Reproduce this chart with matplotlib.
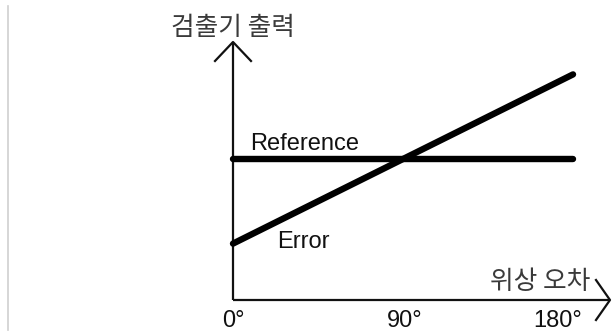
import matplotlib
matplotlib.use("Agg")
import matplotlib.pyplot as plt
from matplotlib.lines import Line2D

# phase error (deg) vs detector output
phase = [0, 180]
reference = [1.0, 1.0]
error = [0.4, 1.6]

tick_pos = [0, 90, 180]
tick_labels = ["0°", "90°", "180°"]

ylabel = "검출기 출력"
xlabel = "위상 오차"

# pixel scale of the drawing (612x333 px at dpi 100)
PX_X = 1.889   # px per degree
PX_Y = 141.0   # px per output unit
X0, Y0 = 233, 300  # origin in pixels (from top-left)

fig = plt.figure(figsize=(6.12, 3.33), dpi=100)
ax = fig.add_axes([0, 0, 1, 1])
ax.set_xlim(-X0 / PX_X, (612 - X0) / PX_X)
ax.set_ylim((Y0 - 333) / PX_Y, Y0 / PX_Y)
ax.axis("off")

kr = ["Noto Sans CJK KR", "DejaVu Sans"]
lat = ["Liberation Sans", "DejaVu Sans"]

# faint frame line on the left edge
fig.add_artist(Line2D([8 / 612, 8 / 612], [3 / 333, 327 / 333], color="#cfcfcf", lw=1.2))

# axes with open arrow heads
x_end = (610 - X0) / PX_X
y_end = (Y0 - 42) / PX_Y
ax.plot([0, x_end], [0, 0], color="#111111", lw=1.6, solid_capstyle="butt")
ax.plot([0, 0], [0, y_end], color="#111111", lw=1.6, solid_capstyle="butt")
ax.plot([x_end - 14 / PX_X, x_end, x_end - 14 / PX_X],
        [20 / PX_Y, 0, -20 / PX_Y], color="#111111", lw=1.6)
ax.plot([-18 / PX_X, 0, 18 / PX_X],
        [y_end - 19 / PX_Y, y_end, y_end - 19 / PX_Y], color="#111111", lw=1.6)

# signals
ax.plot(phase, reference, color="black", lw=4.6, solid_capstyle="round")
ax.plot(phase, error, color="black", lw=4.6, solid_capstyle="round")

ax.text(9.0, 1.064, "Reference", family=lat, fontsize=17, color="#111111",
        ha="left", va="baseline")
ax.text(23.3, 0.369, "Error", family=lat, fontsize=17, color="#111111",
        ha="left", va="baseline")

ax.text(0, (Y0 - 28) / PX_Y, ylabel, family=kr, fontsize=18.5, color="#3a3a3a",
        fontweight="light", ha="center", va="center")
ax.text((590 - X0) / PX_X, (Y0 - 282) / PX_Y, xlabel, family=kr, fontsize=18.5,
        color="#3a3a3a", fontweight="light", ha="right", va="center")

# tick labels under the x axis
aligns = ["center", "center", "right"]
shift = [0, 1, 5]
for p, lab, ha, s in zip(tick_pos, tick_labels, aligns, shift):
    ax.text(p + s, (Y0 - 327) / PX_Y, lab, family=lat, fontsize=17,
            color="#111111", ha=ha, va="baseline")

fig.savefig("out.png", dpi=100, facecolor="white")
